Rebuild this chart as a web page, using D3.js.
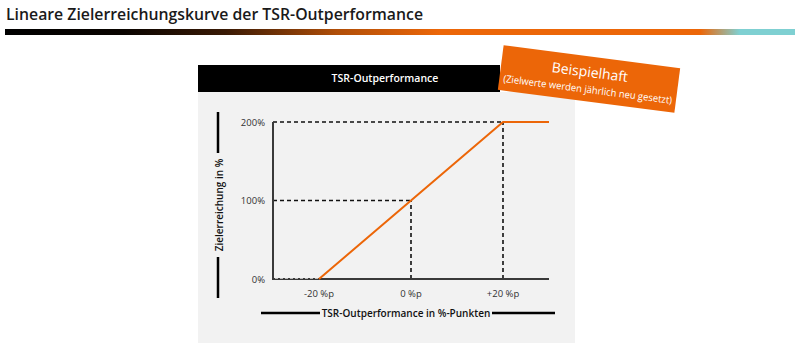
<!DOCTYPE html>
<html><head><meta charset="utf-8">
<script src="https://cdn.jsdelivr.net/npm/d3@7"></script>
<style>body{margin:0;background:#fff}svg{display:block}</style>
</head><body>
<script>
const titleText = "Lineare Zielerreichungskurve der TSR-Outperformance";
const headerText = "TSR-Outperformance";
const badgeLines = ["Beispielhaft", "(Zielwerte werden jährlich neu gesetzt)"];
const yTitle = "Zielerreichung in %";
const xTitle = "TSR-Outperformance in %-Punkten";
// curve points: TSR outperformance (%p) -> target achievement (%)
const curveX = [-20, 20, 30];
const curveY = [0, 200, 200];
const xTicks = [-20, 0, 20];
const xTickLabels = ["-20 %p", "0 %p", "+20 %p"];
const yTicks = [0, 100, 200];
const yTickLabels = ["0%", "100%", "200%"];
const guideX = [0, 20];      // dashed guides
const guideY = [100, 200];

const W = 800, H = 343;
const orange = "#EC6608";
const svg = d3.select("body").append("svg").attr("width", W).attr("height", H);
const font = "'Open Sans', 'Noto Sans', sans-serif";

// Title
svg.append("text").attr("x", 6).attr("y", 20).text(titleText)
  .attr("font-family", font).attr("font-size", 15.5).attr("font-weight", 600).attr("fill", "#1a1a1a")
  .attr("textLength", 417).attr("lengthAdjust", "spacingAndGlyphs");

// Gradient bar
const defs = svg.append("defs");
const g = defs.append("linearGradient").attr("id", "bar");
[[0, "#000"], [0.15, "#0a0400"], [0.28, "#3a1a05"], [0.42, "#b04e08"], [0.55, orange], [0.88, orange], [0.93, "#7fd0d2"], [1, "#7fd0d2"]]
  .forEach(([o, c]) => g.append("stop").attr("offset", o).attr("stop-color", c));
svg.append("rect").attr("x", 5).attr("y", 29).attr("width", 790).attr("height", 6).attr("fill", "url(#bar)");

// panel
svg.append("rect").attr("x", 198).attr("y", 92).attr("width", 377).attr("height", 251).attr("fill", "#f2f2f2");
svg.append("rect").attr("x", 198).attr("y", 65).attr("width", 302).attr("height", 27).attr("fill", "#000");
svg.append("text").attr("x", 385).attr("y", 82).attr("text-anchor", "middle").text(headerText)
  .attr("font-family", font).attr("font-size", 10.5).attr("font-weight", 600).attr("fill", "#fff");

// Scales
const x = d3.scaleLinear().domain([-30, 30]).range([273, 549]);
const y = d3.scaleLinear().domain([0, 200]).range([279, 122]);

// dashed guides
const dash = svg.append("g").attr("stroke", "#111").attr("stroke-width", 1.6).attr("stroke-dasharray", "4,3").attr("fill", "none");
guideY.forEach((v, i) => {
  dash.append("line").attr("x1", x(-30)).attr("x2", x(guideX[i])).attr("y1", y(v)).attr("y2", y(v));
  dash.append("line").attr("x1", x(guideX[i])).attr("x2", x(guideX[i])).attr("y1", y(0)).attr("y2", y(v));
});

// axes
const axes = svg.append("g").attr("stroke", "#3a3a3a").attr("stroke-width", 2).attr("fill", "none");
axes.append("line").attr("x1", x(-30)).attr("x2", x(-30)).attr("y1", y(200)).attr("y2", y(0) + 1);
axes.append("line").attr("x1", x(-30)).attr("x2", x(30)).attr("y1", y(0)).attr("y2", y(0));
// dashed zero segment along axis
svg.append("line").attr("x1", x(-30) + 2).attr("x2", x(curveX[0])).attr("y1", y(0) - 0.5).attr("y2", y(0) - 0.5)
  .attr("stroke", "#bbb").attr("stroke-width", 1).attr("stroke-dasharray", "3,2");

// curve
const line = d3.line().x(d => x(d[0])).y(d => y(d[1]));
svg.append("path").datum(curveX.map((v, i) => [v, curveY[i]])).attr("d", line)
  .attr("fill", "none").attr("stroke", orange).attr("stroke-width", 2);

// tick labels
yTicks.forEach((v, i) => svg.append("text").attr("x", 265).attr("y", y(v) + 3.5).attr("text-anchor", "end")
  .text(yTickLabels[i]).attr("font-family", font).attr("font-size", 9.5).attr("fill", "#333"));
xTicks.forEach((v, i) => svg.append("text").attr("x", x(v)).attr("y", 297).attr("text-anchor", "middle")
  .text(xTickLabels[i]).attr("font-family", font).attr("font-size", 9.5).attr("fill", "#333"));

// axis titles with bars
svg.append("text").attr("transform", "translate(223,205) rotate(-90)").attr("text-anchor", "middle")
  .text(yTitle).attr("font-family", font).attr("font-size", 10).attr("font-weight", 600).attr("fill", "#111");
svg.append("line").attr("x1", 218).attr("x2", 218).attr("y1", 112).attr("y2", 153).attr("stroke", "#000").attr("stroke-width", 2.5);
svg.append("line").attr("x1", 218).attr("x2", 218).attr("y1", 257).attr("y2", 298).attr("stroke", "#000").attr("stroke-width", 2.5);
svg.append("text").attr("x", 406).attr("y", 317).attr("text-anchor", "middle")
  .text(xTitle).attr("font-family", font).attr("font-size", 10).attr("font-weight", 600).attr("fill", "#111");
svg.append("line").attr("x1", 261).attr("x2", 320).attr("y1", 313).attr("y2", 313).attr("stroke", "#000").attr("stroke-width", 2.5);
svg.append("line").attr("x1", 492).attr("x2", 555).attr("y1", 313).attr("y2", 313).attr("stroke", "#000").attr("stroke-width", 2.5);

// badge
const b = svg.append("g").attr("transform", "translate(589,79) rotate(7.4)");
b.append("rect").attr("x", -89).attr("y", -22.5).attr("width", 178).attr("height", 45).attr("fill", orange);
b.append("text").attr("x", 0).attr("y", -2).attr("text-anchor", "middle").text(badgeLines[0])
  .attr("font-family", font).attr("font-size", 14).attr("fill", "#fff");
b.append("text").attr("x", 0).attr("y", 14).attr("text-anchor", "middle").text(badgeLines[1])
  .attr("font-family", font).attr("font-size", 10).attr("fill", "#fff")
  .attr("textLength", 170).attr("lengthAdjust", "spacingAndGlyphs");
</script>
</body></html>
